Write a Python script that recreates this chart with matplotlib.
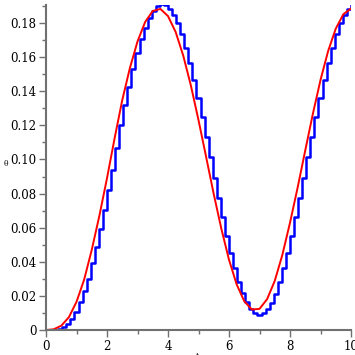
import numpy as np
import matplotlib
matplotlib.use('Agg')
import matplotlib.pyplot as plt
from matplotlib.ticker import MultipleLocator, FuncFormatter

# continuous solution, sampled every 0.25 in t
red_t = np.linspace(0, 10, 41)
red_theta = [0.0, 0.0004, 0.0025, 0.0075, 0.0165, 0.0295, 0.047, 0.067,
             0.089, 0.1125, 0.1348, 0.1536, 0.1692, 0.1806, 0.1871, 0.1883,
             0.1841, 0.1748, 0.1609, 0.1434, 0.1231, 0.1015, 0.0797, 0.0593,
             0.0412, 0.0268, 0.0169, 0.0120, 0.0124, 0.0181, 0.0288, 0.0441,
             0.0629, 0.0835, 0.1053, 0.1268, 0.1466, 0.1636, 0.1767, 0.1852,
             0.1885]

# discrete (sample and hold) solution, one value per step
blue_t = np.linspace(0, 10, 76)
blue_theta = [0.0, 0.0, 0.0002, 0.0008, 0.0020, 0.0038, 0.0065, 0.0105,
              0.0163, 0.0230, 0.0302, 0.0390, 0.0486, 0.0594, 0.0702, 0.0819,
              0.0940, 0.1070, 0.1202, 0.1318, 0.1427, 0.1529, 0.1622, 0.1704,
              0.1774, 0.1830, 0.1872, 0.1899, 0.1910, 0.1905, 0.1884, 0.1849,
              0.1798, 0.1733, 0.1656, 0.1567, 0.1469, 0.1362, 0.1249, 0.1131,
              0.1012, 0.0892, 0.0774, 0.0660, 0.0553, 0.0453, 0.0363, 0.0283,
              0.0216, 0.0162, 0.0121, 0.0098, 0.0090, 0.0098, 0.0122, 0.0161,
              0.0214, 0.0282, 0.0362, 0.0453, 0.0553, 0.0662, 0.0776, 0.0894,
              0.1012, 0.1131, 0.1249, 0.1362, 0.1469, 0.1567, 0.1656, 0.1733,
              0.1798, 0.1848, 0.1884, 0.1905]

axis_color = '#707070'

plt.rcParams['font.family'] = 'DejaVu Serif'

fig = plt.figure(figsize=(3.55, 3.55), dpi=100)
ax = fig.add_axes([46 / 355, 25 / 355, 305 / 355, 325 / 355])

ax.plot(blue_t, blue_theta, drawstyle='steps-post', color='#0000ff', lw=1.8)
ax.plot(red_t, red_theta, color='#ff0000', lw=1.4)

ax.set_xlim(0, 10)
ax.set_ylim(0, 0.1906)

for side in ['top', 'right']:
    ax.spines[side].set_visible(False)
for side in ['left', 'bottom']:
    ax.spines[side].set_color(axis_color)
    ax.spines[side].set_linewidth(1.5)

ax.xaxis.set_major_locator(MultipleLocator(2))
ax.xaxis.set_minor_locator(MultipleLocator(1))
ax.yaxis.set_major_locator(MultipleLocator(0.02))
ax.yaxis.set_minor_locator(MultipleLocator(0.01))
ax.yaxis.set_major_formatter(FuncFormatter(lambda v, p: '0' if abs(v) < 1e-9 else '%.2f' % v))
ax.xaxis.set_major_formatter(FuncFormatter(lambda v, p: '%d' % round(v)))

ax.tick_params(which='major', length=5, width=1, color=axis_color, labelsize=8.5, pad=2)
ax.tick_params(which='minor', length=3, width=1, color=axis_color)

ax.set_ylabel('θ', rotation=0, fontsize=5.5)
ax.yaxis.set_label_coords(-0.131, 0.5)
ax.set_xlabel('t', fontsize=5.5)
ax.xaxis.set_label_coords(0.495, -0.068)

fig.savefig('out.png', dpi=100)
